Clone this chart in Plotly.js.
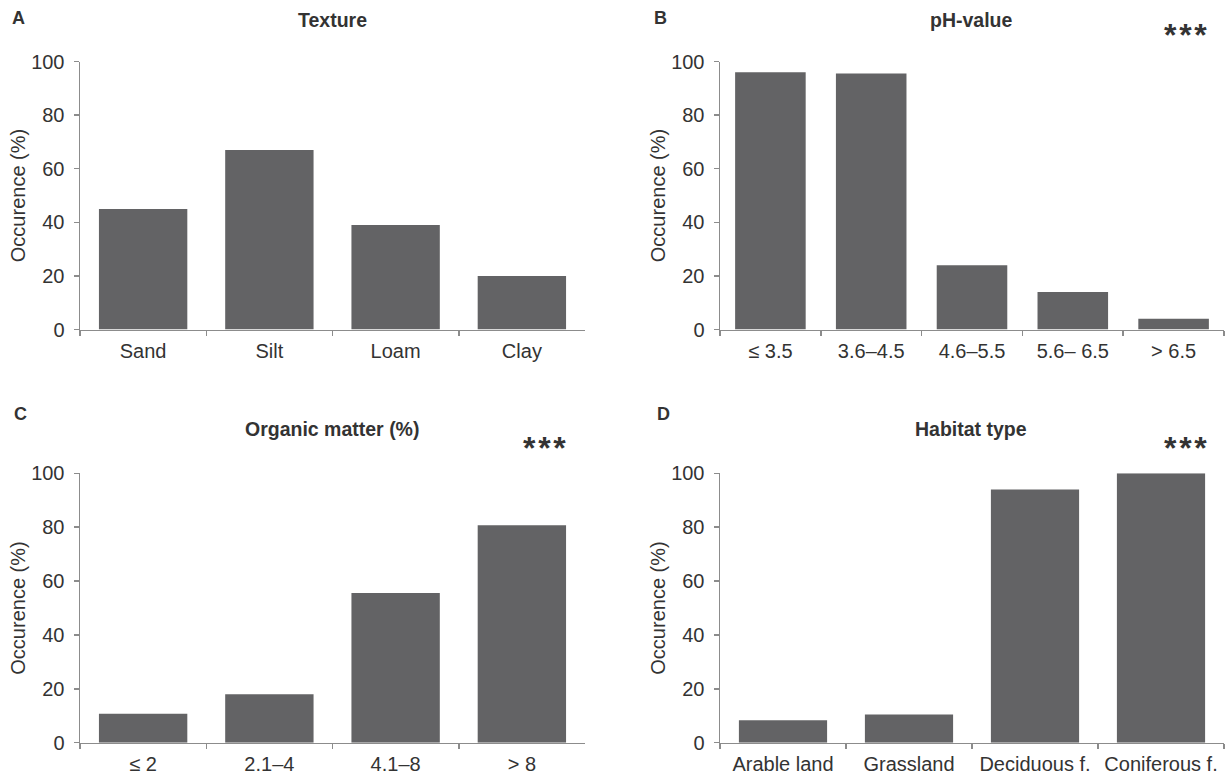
<!DOCTYPE html>
<html><head><meta charset="utf-8">
<script src="https://cdn.plot.ly/plotly-3.0.1.min.js"></script>
<style>html,body{margin:0;padding:0;background:#fff}#chart{width:1227px;height:778px}</style>
</head><body><div id="chart"></div>
<script>
// ---- data ----
const textureCats = ['Sand', 'Silt', 'Loam', 'Clay'];
const textureVals = [45, 67, 39, 20];
const phCats = ['≤ 3.5', '3.6–4.5', '4.6–5.5', '5.6– 6.5', '> 6.5'];
const phVals = [96, 95.5, 24, 14, 4];
const omCats = ['≤ 2', '2.1–4', '4.1–8', '> 8'];
const omVals = [10.7, 18, 55.6, 80.7];
const habitatCats = ['Arable land', 'Grassland', 'Deciduous f.', 'Coniferous f.'];
const habitatVals = [8.3, 10.5, 94, 100];
const yTickVals = [0, 20, 40, 60, 80, 100];
const panelTitles = ['Texture', 'pH-value', 'Organic matter (%)', 'Habitat type'];
const panelLetters = ['A', 'B', 'C', 'D'];
const yTitle = 'Occurence (%)';
const signif = ['', '*\u200a*\u200a*', '*\u200a*\u200a*', '*\u200a*\u200a*'];

// ---- style ----
const W = 1227, H = 778;
const BAR = '#636365', AXIS = '#8c8c8c', TXT = '#333333';
const FONT = 'Liberation Sans, Arial, Helvetica, sans-serif';
const px = x => x / W, py = y => 1 - y / H;

const cols = [[80, 585], [720, 1224]];
const rows = [[61.5, 329.5], [473.3, 742.7]];

const panels = [
  {cats: textureCats, vals: textureVals, c: 0, r: 0},
  {cats: phCats, vals: phVals, c: 1, r: 0},
  {cats: omCats, vals: omVals, c: 0, r: 1},
  {cats: habitatCats, vals: habitatVals, c: 1, r: 1}
];

const data = [];
const layout = {
  width: W, height: H,
  margin: {l: 0, r: 0, t: 0, b: 0},
  paper_bgcolor: '#fff', plot_bgcolor: '#fff',
  showlegend: false,
  bargap: 0.3,
  font: {family: FONT, color: TXT},
  annotations: []
};

panels.forEach((p, i) => {
  const k = i === 0 ? '' : String(i + 1);
  data.push({
    type: 'bar', x: p.cats, y: p.vals,
    xaxis: 'x' + k, yaxis: 'y' + k,
    marker: {color: BAR, line: {width: 0}},
    hoverinfo: 'x+y'
  });
  const [x0, x1] = cols[p.c];
  const [yTop, yBot] = rows[p.r];
  layout['xaxis' + k] = {
    domain: [px(x0), px(x1)], anchor: 'y' + k,
    type: 'category', range: [-0.5, p.cats.length - 0.5],
    showline: true, linecolor: AXIS, linewidth: 1.5,
    ticks: 'outside', tickson: 'boundaries', ticklen: 5, tickwidth: 1.5, tickcolor: AXIS,
    ticklabelstandoff: 3,
    tickfont: {size: 20, color: TXT, family: FONT},
    showgrid: false, zeroline: false, fixedrange: true
  };
  layout['yaxis' + k] = {
    domain: [py(yBot), py(yTop)], anchor: 'x' + k,
    range: [0, 100], tickmode: 'array', tickvals: yTickVals,
    showline: true, linecolor: AXIS, linewidth: 1.5,
    ticks: 'outside', ticklen: 5, tickwidth: 1.5, tickcolor: AXIS,
    ticklabelstandoff: 5,
    tickfont: {size: 20, color: TXT, family: FONT},
    showgrid: false, zeroline: false, fixedrange: true,
    title: {text: yTitle, font: {size: 20, color: TXT, family: FONT}, standoff: 0}
  };
});

// panel letters, titles, significance stars
const letterPos = [[18, 18], [660, 18], [20, 414], [663, 414]];
const titlePos = [[332, 20], [971, 20], [332, 429], [971, 429]];
const starPos = [null, [1185, 35], [544, 448], [1185, 448]];
for (let i = 0; i < 4; i++) {
  layout.annotations.push({
    xref: 'paper', yref: 'paper', x: px(letterPos[i][0]), y: py(letterPos[i][1]),
    xanchor: 'center', yanchor: 'middle', showarrow: false,
    text: '<b>' + panelLetters[i] + '</b>', font: {size: 18, color: TXT, family: FONT}
  });
  layout.annotations.push({
    xref: 'paper', yref: 'paper', x: px(titlePos[i][0]), y: py(titlePos[i][1]),
    xanchor: 'center', yanchor: 'middle', showarrow: false,
    text: '<b>' + panelTitles[i] + '</b>', font: {size: 19.5, color: TXT, family: FONT}
  });
  if (signif[i]) {
    layout.annotations.push({
      xref: 'paper', yref: 'paper', x: px(starPos[i][0]), y: py(starPos[i][1]),
      xanchor: 'center', yanchor: 'middle', showarrow: false,
      text: '<b>' + signif[i] + '</b>', font: {size: 32, color: TXT, family: FONT}
    });
  }
}

Plotly.newPlot('chart', data, layout, {displayModeBar: false, staticPlot: true});
</script>
</body></html>
